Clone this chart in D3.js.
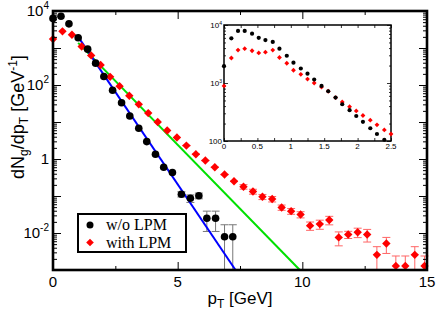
<!DOCTYPE html>
<html>
<head>
<meta charset="utf-8">
<script src="https://cdn.jsdelivr.net/npm/d3@7"></script>
<style>
  body { margin: 0; background: #fff; }
  text { font-family: "Liberation Sans", Arial, sans-serif; }
</style>
</head>
<body>
<svg width="436" height="313"></svg>
<script>
// main plot, w/o LPM (black)
var noLpmX = [0, 0.32, 0.64, 1.01, 1.39, 1.71, 2.04, 2.39, 2.75, 3.08, 3.44, 3.76, 4.11, 4.44, 4.79, 5.15, 5.51, 5.85, 6.17, 6.52, 6.88, 7.21];
var noLpmY = [6300, 7200, 4500, 1900, 930, 390, 170, 72, 33, 14.5, 6.8, 2.95, 1.35, 0.6, 0.43, 0.112, 0.087, 0.102, 0.025, 0.025, 0.0079, 0.0079];
var noLpmErr = [0, 0, 0, 0, 0, 0, 0, 0, 0, 0, 0, 0, 0, 0, 0, 0.018, 0.02, 0.018, 0.014, 0.014, 0.0088, 0.0088];

// main plot, with LPM (red)
var lpmX = [0, 0.38, 0.76, 1.15, 1.53, 1.91, 2.29, 2.67, 3.06, 3.44, 3.82, 4.2, 4.58, 4.97, 5.35, 5.73, 6.11, 6.49, 6.88, 7.26,
            7.64, 8.02, 8.4, 8.79, 9.17, 9.55, 9.93, 10.31, 10.7, 11.08, 11.46, 11.84, 12.22, 12.6, 12.99, 13.37, 13.75, 14.13, 14.51, 14.9];
var lpmY = [1740, 2820, 2290, 1100, 630, 347, 166, 93, 51, 30, 17.4, 10, 5.9, 3.8, 2.3, 1.35, 0.91, 0.6, 0.38, 0.25,
            0.178, 0.132, 0.095, 0.083, 0.049, 0.039, 0.0316, 0.0158, 0.0174, 0.0224, 0.0076, 0.0091, 0.0105, 0.0091, 0.00257, 0.0052, 0.00129, 0.00129, 0.00257, 0.00129];
var lpmErr = [0, 0, 0, 0, 0, 0, 0, 0, 0, 0, 0, 0, 0, 0, 0.03, 0.015, 0.01, 0.007, 0.005, 0.004,
              0.025, 0.02, 0.015, 0.014, 0.008, 0.007, 0.006, 0.004, 0.0048, 0.0058, 0.0031, 0.002, 0.003, 0.0034, 0.0017, 0.0024, 0.0011, 0.0011, 0.0017, 0.0011];

// fit lines (end points)
var blueFit = [[1.01, 2000], [7.32, 0.001]];
var greenFit = [[1.01, 1380], [9.9, 0.001]];

// inset data
var insetX = [0, 0.11, 0.21, 0.31, 0.42, 0.52, 0.62, 0.73, 0.83, 0.94, 1.04, 1.15, 1.25, 1.35, 1.46, 1.56, 1.67, 1.77, 1.88, 1.98, 2.08, 2.19, 2.29, 2.4, 2.5];
var insetNoLpm = [1950, 5900, 7900, 7900, 7100, 6000, 5500, 5100, 3900, 2950, 2240, 1780, 1450, 1150, 890, 720, 560, 430, 340, 270, 214, 166, 132, 105];
var insetLpm = [890, 2700, 3700, 3900, 3600, 3300, 3400, 3700, 2750, 2190, 1660, 1410, 1170, 1000, 850, 720, 560, 470, 390, 330, 275, 229, 190, 155, 132];

var xTicks = [0, 5, 10, 15];
var yTickLabels = [{v: 1e4, b: "10", e: "4"}, {v: 1e2, b: "10", e: "2"}, {v: 1, b: "1", e: ""}, {v: 1e-2, b: "10", e: "-2"}];
var insetXTicks = [0, 0.5, 1, 1.5, 2, 2.5];
var insetYTickLabels = [{v: 1e4, b: "10", e: "4"}, {v: 1e3, b: "10", e: "3"}, {v: 100, b: "100", e: ""}];

var svg = d3.select("svg");

var x = d3.scaleLinear().domain([0, 15]).range([53, 427]);
var y = d3.scaleLog().domain([1e-3, 1e4]).range([270, 11]);

var line = d3.line()
  .x(function(d) { return x(d[0]); })
  .y(function(d) { return y(d[1]); });

function diamond(s) {
  return "M0," + (-s) + "L" + s + ",0L0," + s + "L" + (-s) + ",0Z";
}

// error bars
function errBars(g, xs, ys, es, sx, sy, color) {
  xs.forEach(function(xv, i) {
    var e = es[i];
    if (!e) return;
    var top = sy(ys[i] + e);
    var lo = ys[i] - e;
    var bot = lo > 0 ? Math.min(sy(lo), 270) : 270;
    var cx = sx(xv);
    g.append("line").attr("x1", cx).attr("x2", cx).attr("y1", top).attr("y2", bot)
      .attr("stroke", color).attr("stroke-width", 1);
    g.append("line").attr("x1", cx - 4).attr("x2", cx + 4).attr("y1", top).attr("y2", top)
      .attr("stroke", color).attr("stroke-width", 1);
    if (lo > 0 && sy(lo) < 270) {
      g.append("line").attr("x1", cx - 4).attr("x2", cx + 4).attr("y1", bot).attr("y2", bot)
        .attr("stroke", color).attr("stroke-width", 1);
    }
  });
}

var marks = svg.append("g");

errBars(marks, noLpmX, noLpmY, noLpmErr, x, y, "#777");
errBars(marks, lpmX, lpmY, lpmErr, x, y, "#f66");

marks.append("path").attr("d", line(greenFit))
  .attr("fill", "none").attr("stroke", "#00e000").attr("stroke-width", 2);
marks.append("path").attr("d", line(blueFit))
  .attr("fill", "none").attr("stroke", "#0000ff").attr("stroke-width", 2);

lpmX.forEach(function(xv, i) {
  marks.append("path").attr("d", diamond(4.2))
    .attr("transform", "translate(" + x(xv) + "," + y(lpmY[i]) + ")")
    .attr("fill", "#ff0000");
});
noLpmX.forEach(function(xv, i) {
  marks.append("circle").attr("cx", x(xv)).attr("cy", y(noLpmY[i])).attr("r", 3.8)
    .attr("fill", "#000");
});

// axes, ticks inward
var yAll = y.ticks();
var yMajor = yAll.filter(function(v) { return Math.abs(Math.log10(v) - Math.round(Math.log10(v))) < 1e-6; });
var yMinor = yAll.filter(function(v) { return yMajor.indexOf(v) < 0; });

svg.append("g").attr("transform", "translate(53,0)")
  .call(d3.axisLeft(y).tickValues(yMajor).tickSize(-8).tickFormat(""))
  .call(function(g) { g.select(".domain").remove(); });
svg.append("g").attr("transform", "translate(53,0)")
  .call(d3.axisLeft(y).tickValues(yMinor).tickSize(-4).tickFormat(""))
  .call(function(g) { g.select(".domain").remove(); });
svg.append("g").attr("transform", "translate(427,0)")
  .call(d3.axisRight(y).tickValues(yMajor).tickSize(-8).tickFormat(""))
  .call(function(g) { g.select(".domain").remove(); });
svg.append("g").attr("transform", "translate(427,0)")
  .call(d3.axisRight(y).tickValues(yMinor).tickSize(-4).tickFormat(""))
  .call(function(g) { g.select(".domain").remove(); });

svg.append("g").attr("transform", "translate(0,270)")
  .call(d3.axisBottom(x).tickValues(xTicks).tickSize(-8).tickFormat(""))
  .call(function(g) { g.select(".domain").remove(); });
svg.append("g").attr("transform", "translate(0,270)")
  .call(d3.axisBottom(x).tickValues([2.5, 7.5, 12.5]).tickSize(-4).tickFormat(""))
  .call(function(g) { g.select(".domain").remove(); });
svg.append("g").attr("transform", "translate(0,11)")
  .call(d3.axisTop(x).tickValues(xTicks).tickSize(-8).tickFormat(""))
  .call(function(g) { g.select(".domain").remove(); });
svg.append("g").attr("transform", "translate(0,11)")
  .call(d3.axisTop(x).tickValues([2.5, 7.5, 12.5]).tickSize(-4).tickFormat(""))
  .call(function(g) { g.select(".domain").remove(); });
svg.selectAll(".tick line").attr("stroke", "#000").attr("stroke-width", 1);

svg.append("rect").attr("x", 53).attr("y", 11).attr("width", 374).attr("height", 259)
  .attr("fill", "none").attr("stroke", "#000").attr("stroke-width", 2.6);

// tick labels
xTicks.forEach(function(v) {
  svg.append("text").attr("x", x(v)).attr("y", 287).attr("text-anchor", "middle")
    .attr("font-size", 15).text(v);
});
yTickLabels.forEach(function(t) {
  var tx = svg.append("text").attr("x", 49).attr("y", y(t.v) + 5).attr("text-anchor", "end")
    .attr("font-size", 15);
  tx.append("tspan").text(t.b);
  if (t.e) tx.append("tspan").attr("font-size", 10).attr("dy", -7).text(t.e);
});

// axis titles
var xt = svg.append("text").attr("x", 240).attr("y", 304).attr("text-anchor", "middle").attr("font-size", 17);
xt.append("tspan").text("p");
xt.append("tspan").attr("font-size", 12).attr("dy", 4).text("T");
xt.append("tspan").attr("dy", -4).text(" [GeV]");

var yt = svg.append("text").attr("transform", "translate(24,117) rotate(-90)")
  .attr("text-anchor", "middle").attr("font-size", 18);
yt.append("tspan").text("dN");
yt.append("tspan").attr("font-size", 12).attr("dy", 4).text("g");
yt.append("tspan").attr("dy", -4).text("/dp");
yt.append("tspan").attr("font-size", 12).attr("dy", 4).text("T");
yt.append("tspan").attr("dy", -4).text(" [GeV");
yt.append("tspan").attr("font-size", 12).attr("dy", -7).text("-1");
yt.append("tspan").attr("dy", 7).text("]");

// legend
var leg = svg.append("g");
leg.append("rect").attr("x", 78).attr("y", 214).attr("width", 108).attr("height", 38)
  .attr("fill", "#fff").attr("stroke", "#000").attr("stroke-width", 2);
leg.append("circle").attr("cx", 90).attr("cy", 225).attr("r", 3.5).attr("fill", "#000");
leg.append("path").attr("d", diamond(3.8)).attr("transform", "translate(90,242.5)").attr("fill", "#ff0000");
leg.append("text").attr("x", 106).attr("y", 230).attr("font-size", 16)
  .style("font-family", "'Liberation Serif', 'Times New Roman', serif").text("w/o LPM");
leg.append("text").attr("x", 106).attr("y", 248).attr("font-size", 16)
  .style("font-family", "'Liberation Serif', 'Times New Roman', serif").text("with LPM");

// inset
var ix = d3.scaleLinear().domain([0, 2.5]).range([224, 391]);
var iy = d3.scaleLog().domain([100, 1e4]).range([141, 25]);
var inset = svg.append("g");

var iyAll = iy.ticks();
var iyMajor = iyAll.filter(function(v) { return Math.abs(Math.log10(v) - Math.round(Math.log10(v))) < 1e-6; });
var iyMinor = iyAll.filter(function(v) { return iyMajor.indexOf(v) < 0; });

inset.append("g").attr("transform", "translate(224,0)")
  .call(d3.axisLeft(iy).tickValues(iyMajor).tickSize(-4).tickFormat(""))
  .call(function(g) { g.select(".domain").remove(); });
inset.append("g").attr("transform", "translate(224,0)")
  .call(d3.axisLeft(iy).tickValues(iyMinor).tickSize(-2).tickFormat(""))
  .call(function(g) { g.select(".domain").remove(); });
inset.append("g").attr("transform", "translate(391,0)")
  .call(d3.axisRight(iy).tickValues(iyMajor).tickSize(-4).tickFormat(""))
  .call(function(g) { g.select(".domain").remove(); });
inset.append("g").attr("transform", "translate(391,0)")
  .call(d3.axisRight(iy).tickValues(iyMinor).tickSize(-2).tickFormat(""))
  .call(function(g) { g.select(".domain").remove(); });
inset.append("g").attr("transform", "translate(0,141)")
  .call(d3.axisBottom(ix).tickValues(d3.range(0, 2.51, 0.25)).tickSize(-3).tickFormat(""))
  .call(function(g) { g.select(".domain").remove(); });
inset.append("g").attr("transform", "translate(0,25)")
  .call(d3.axisTop(ix).tickValues(d3.range(0, 2.51, 0.25)).tickSize(-3).tickFormat(""))
  .call(function(g) { g.select(".domain").remove(); });
inset.selectAll(".tick line").attr("stroke", "#000").attr("stroke-width", 0.8);

inset.append("rect").attr("x", 224).attr("y", 25).attr("width", 167).attr("height", 116)
  .attr("fill", "none").attr("stroke", "#000").attr("stroke-width", 1.5);

insetXTicks.forEach(function(v) {
  inset.append("text").attr("x", ix(v)).attr("y", 149).attr("text-anchor", "middle")
    .attr("font-size", 8).text(v);
});
insetYTickLabels.forEach(function(t) {
  var tx = inset.append("text").attr("x", 222).attr("y", iy(t.v) + 3).attr("text-anchor", "end")
    .attr("font-size", 8);
  tx.append("tspan").text(t.b);
  if (t.e) tx.append("tspan").attr("font-size", 5).attr("dy", -3).text(t.e);
});

insetLpm.forEach(function(v, i) {
  inset.append("path").attr("d", diamond(2.4))
    .attr("transform", "translate(" + ix(insetX[i]) + "," + iy(v) + ")")
    .attr("fill", "#ff0000");
});
insetNoLpm.forEach(function(v, i) {
  inset.append("circle").attr("cx", ix(insetX[i])).attr("cy", iy(v)).attr("r", 2.1)
    .attr("fill", "#000");
});
</script>
</body>
</html>
